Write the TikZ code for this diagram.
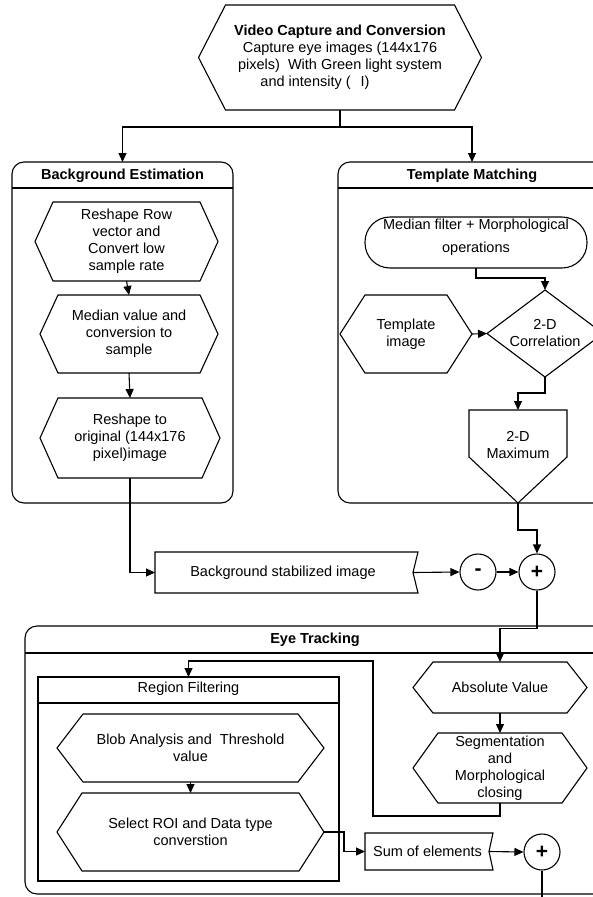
\documentclass[tikz,border=0pt]{standalone}
\usepackage{fontspec}
\setmainfont{Liberation Sans}
\usetikzlibrary{arrows.meta,shapes.misc}
\newcommand\fsz{\fontsize{14.5pt}{17pt}\selectfont}
\newcommand\hexshape[2]{\draw[ln] ([xshift=#2]#1.north west) -- ([xshift=-#2]#1.north east) -- (#1.east) -- ([xshift=-#2]#1.south east) -- ([xshift=#2]#1.south west) -- (#1.west) -- cycle;}
\tikzset{
  base/.style={font=\fsz, align=center, inner sep=0pt, outer sep=0pt},
  ln/.style={line width=1.1pt, black},
  arr/.style={ln, -{Triangle[length=9pt,width=8pt]}},
  container/.style={draw, ln, rounded corners=12pt, inner sep=0pt, outer sep=0pt},
  title/.style={base, font=\fsz\bfseries},
  circ/.style={draw, ln, circle, minimum size=36pt, inner sep=0pt, font=\fontsize{21pt}{21pt}\selectfont\bfseries},
}
\begin{document}
\begin{tikzpicture}[x=1pt,y=-1pt]
\fill[white] (0,0) rectangle (593,897);
\useasboundingbox (0,0) rectangle (593,897);
\clip (0,0) rectangle (593,897);

% top hexagon
\node[base, minimum width=283pt, minimum height=105pt] (vid) at (340,57.5)
  {\textbf{Video Capture and Conversion}\\Capture eye images (144x176\\pixels)\ \ With Green light system\\and intensity (\hspace{10pt}I)\hspace*{50pt}};
\hexshape{vid}{27pt}

% containers
\node[container, minimum width=221pt, minimum height=341pt] (be) at (122.5,332.5) {};
\draw[ln] (12,188) -- (233,188);
\node[title] (beT) at (122.5,176) {Background Estimation};

\node[container, minimum width=268pt, minimum height=341pt] (tm) at (472,332.5) {};
\draw[ln] (338,188) -- (606,188);
\node[title] (tmT) at (472,176) {Template Matching};

\node[container, minimum width=600pt, minimum height=268pt] (et) at (325,760) {};
\draw[ln] (25,653) -- (625,653);
\node[title] (etT) at (315,640) {Eye Tracking};

\node[draw, ln, inner sep=0pt, outer sep=0pt, minimum width=301pt, minimum height=204pt] (rf) at (188.5,779) {};
\draw[ln] (38,703) -- (339,703);
\node[base] (rfT) at (188.5,689) {Region Filtering};

% Background estimation chain
\node[base, minimum width=183pt, minimum height=79pt] (h1) at (126.5,241.5) {Reshape Row\\vector and\\Convert low\\sample rate};
\hexshape{h1}{18pt}
\node[base, minimum width=178pt, minimum height=78pt] (h2) at (129,334) {Median value and\\conversion to\\sample};
\hexshape{h2}{18pt}
\node[base, minimum width=180pt, minimum height=80pt] (h3) at (130,438) {Reshape to\\original (144x176\\pixel)image};
\hexshape{h3}{18pt}

% Template matching
\node[draw, ln, inner sep=0pt, outer sep=0pt, rounded corners=25pt, minimum width=222pt, minimum height=51pt] (mf) at (476,242.5) {};
\node[base, font=\fontsize{14.5pt}{23pt}\selectfont] (mfT) at (476,237) {Median filter + Morphological\\operations};
\node[base, minimum width=132pt, minimum height=78pt] (ti) at (406,334) {Template\\image};
\hexshape{ti}{25pt}
\node[base, minimum width=116pt, minimum height=87pt] (corr) at (545,333.5) {2-D\\Correlation};
\draw[ln] (corr.north) -- (corr.east) -- (corr.south) -- (corr.west) -- cycle;
\node[base, minimum width=98pt, minimum height=93pt] (mx) at (518,456.5) {};
\draw[ln] (mx.north west) -- (mx.north east) -- ([yshift=-47pt]mx.north east) -- (mx.south) -- ([yshift=-47pt]mx.north west) -- cycle;
\node[base] (mxT) at (518,445) {2-D\\Maximum};

% middle row
\node[base, minimum width=263pt, minimum height=41pt] (bsi) at (286.5,572.5) {\hspace*{-7pt}Background stabilized image};
\draw[ln] (bsi.north west) -- (bsi.north east) -- ([xshift=-5pt]bsi.east) -- (bsi.south east) -- (bsi.south west) -- cycle;
\node[circ] (m1) at (478,572) {-};
\node[circ] (p1) at (537,572) {+};

% eye tracking
\node[base, minimum width=174pt, minimum height=51pt] (abs) at (500,687.5) {Absolute Value};
\hexshape{abs}{20pt}
\node[base, minimum width=174pt, minimum height=70pt] (seg) at (500,768) {Segmentation\\and\\Morphological\\closing};
\hexshape{seg}{25pt}
\node[base, minimum width=267pt, minimum height=68pt] (blob) at (190.5,748) {Blob Analysis and\ \ Threshold\\value};
\hexshape{blob}{26pt}
\node[base, minimum width=267pt, minimum height=78pt] (sel) at (190.5,832) {Select ROI and Data type\\converstion};
\hexshape{sel}{25pt}
\node[base, minimum width=128pt, minimum height=37pt] (sum) at (429,851.5) {\hspace*{-3pt}Sum of elements};
\draw[ln] (sum.north west) -- (sum.north east) -- ([xshift=-4pt]sum.east) -- (sum.south east) -- (sum.south west) -- cycle;
\node[circ] (p2) at (542,852) {+};

% connectors
\coordinate (jn) at (340,127);
\draw[ln] (vid.south) -- (jn);
\draw[arr] (jn) -| (be.north);
\draw[arr] (jn) -| (tm.north);
\draw[arr] (h1.south) -- (h2.north);
\draw[arr] (h2.south) -- (h3.north);
\draw[arr] (h3.south) |- (bsi.west);
\draw[arr] (mf.south) -- ++(0,10) -| (corr.north);
\draw[arr] (ti.east) -- (corr.west);
\draw[arr] (corr.south) -- ++(0,16) -| (mx.north);
\draw[arr] (mx.south) -- ++(0,27) -| (p1.north);
\draw[arr] ([xshift=-5pt]bsi.east) -- (m1.west);
\draw[arr] (m1.east) -- (p1.west);
\draw[arr] (p1.south) -- ++(0,38) -| (abs.north);
\draw[arr] (abs.south) -- (seg.north);
\coordinate (lp) at (373,661);
\draw[arr] (seg.south) -- ++(0,13) -| (lp) -| (rf.north);
\draw[arr] (blob.south) -- (sel.north);
\draw[arr] (sel.east) -- ++(20,0) |- (sum.west);
\draw[arr] ([xshift=-4pt]sum.east) -- (p2.west);
\coordinate (outp) at (542,905);
\draw[ln] (p2.south) -- (outp);
\end{tikzpicture}
\end{document}
